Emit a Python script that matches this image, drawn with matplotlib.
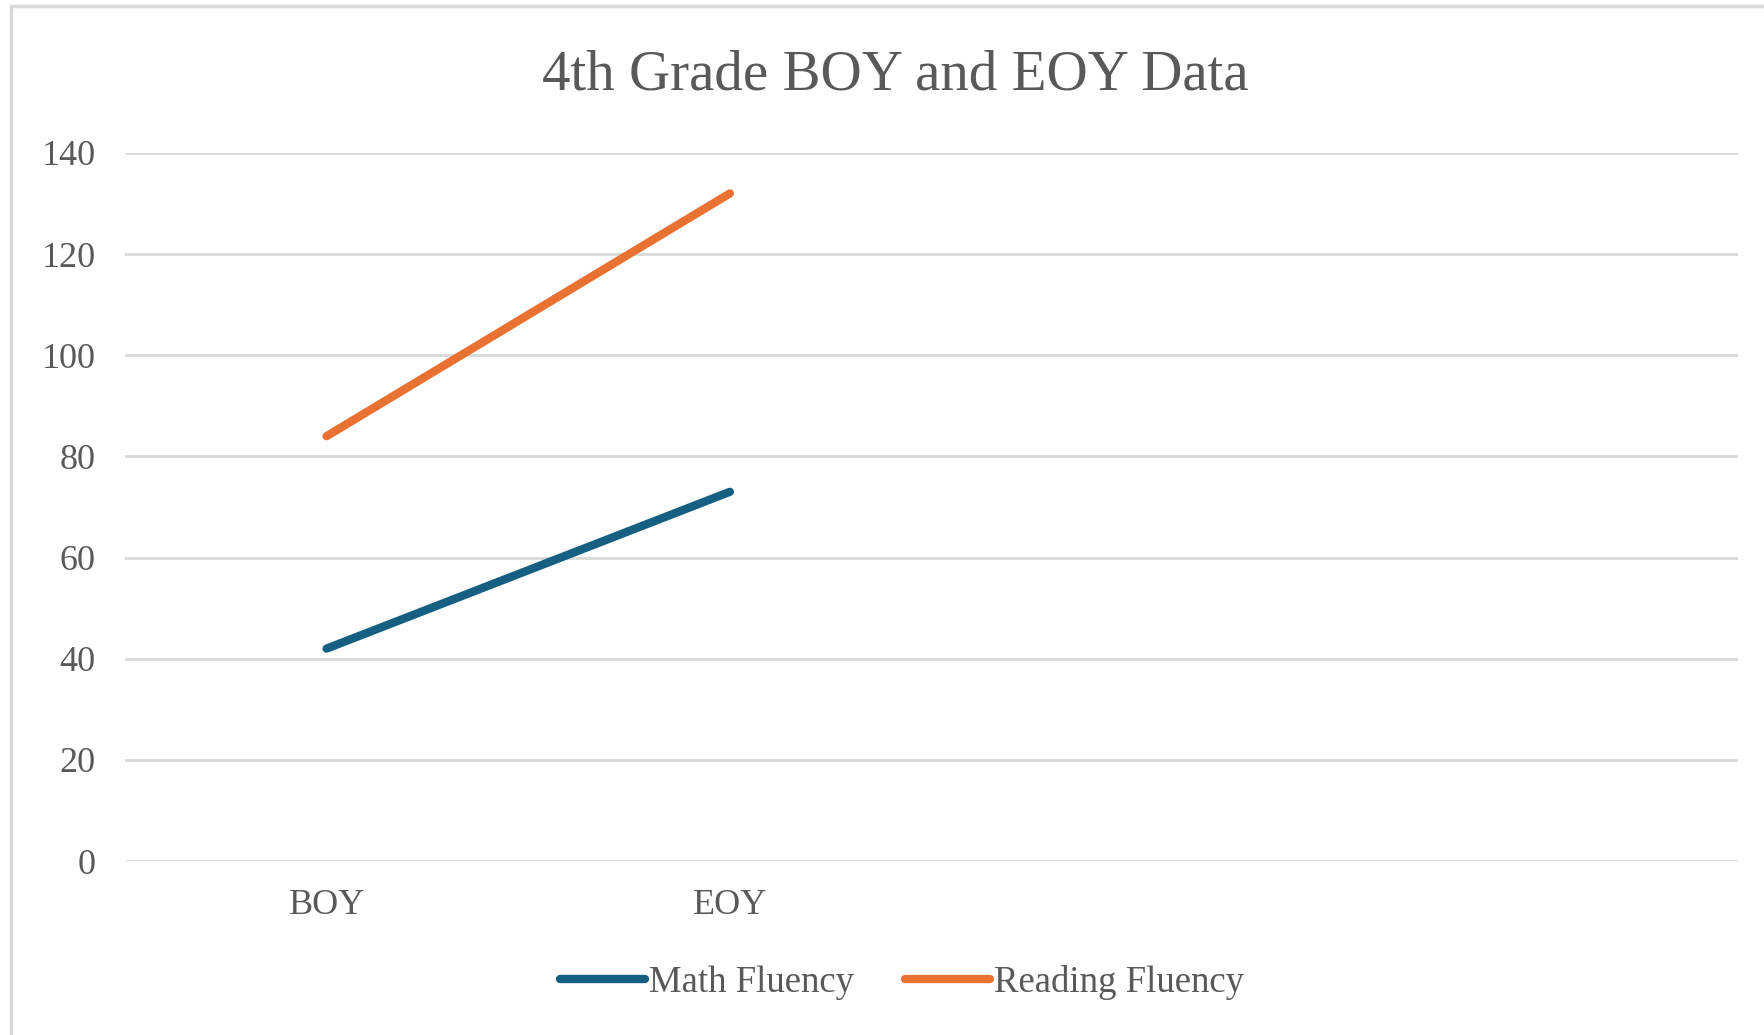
import matplotlib
matplotlib.use('Agg')
import matplotlib.pyplot as plt
from matplotlib.patches import Rectangle

# データ
categories = ['BOY', 'EOY', ' ', '  ']
math_fluency = [42, 73]
reading_fluency = [84, 132]
y_ticks = [0, 20, 40, 60, 80, 100, 120, 140]

plt.rcParams['font.family'] = ['Liberation Serif', 'DejaVu Serif']
text_color = '#595959'
grid_color = '#D9D9D9'

fig = plt.figure(figsize=(17.65, 10.35), dpi=100)
ax = fig.add_axes([0.0708, 0.1681, 0.9139, 0.6841])

# 外枠（上と左のみ見える）
fig.patches.append(Rectangle((11 / 1765, -0.1), 1.2, (1035 - 6) / 1035 + 0.1,
                             transform=fig.transFigure, fill=False,
                             edgecolor=grid_color, linewidth=2.5))

x = list(range(len(categories)))
ax.plot(x[:len(math_fluency)], math_fluency, color='#156082', linewidth=6,
        solid_capstyle='round', label='Math Fluency')
ax.plot(x[:len(reading_fluency)], reading_fluency, color='#E97132', linewidth=6,
        solid_capstyle='round', label='Reading Fluency')

ax.set_xlim(-0.5, len(categories) - 0.5)
ax.set_ylim(0, 140)
ax.set_xticks(x)
ax.set_xticklabels(categories)
ax.set_yticks(y_ticks)
ax.tick_params(axis='both', length=0, labelsize=26, colors=text_color)
ax.tick_params(axis='y', pad=21)
ax.tick_params(axis='x', pad=20)

ax.grid(axis='y', color=grid_color, linewidth=2)
ax.set_axisbelow(True)
for s in ax.spines.values():
    s.set_visible(False)

fig.text(0.5075, 0.927, '4th Grade BOY and EOY Data', ha='center', va='center',
         fontsize=41, color=text_color)

leg = fig.legend(loc='center', bbox_to_anchor=(0.511, 0.051), ncol=2,
                 frameon=False, fontsize=26.5, handlelength=2.3, handletextpad=0.1,
                 columnspacing=1.4)
for t in leg.get_texts():
    t.set_color(text_color)

fig.savefig('out.png', dpi=100, facecolor='white')
